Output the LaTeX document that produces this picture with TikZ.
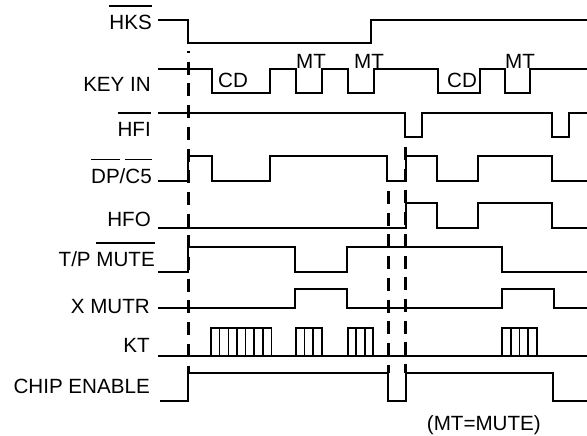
\documentclass[tikz,border=0pt]{standalone}
\usepackage{fontspec}
\setmainfont{Liberation Sans}
\newcommand\ovl[1]{\leavevmode\setbox0\hbox{#1}\rlap{\rule[1.12em]{\wd0}{1.5pt}}\box0}
\begin{document}
\begin{tikzpicture}[x=1pt,y=-1pt,
  sig/.style={line width=1.8pt, line join=miter},
  tick/.style={line width=2.6pt, dash pattern=on 13pt off 8.7pt},
  lbl/.style={inner sep=0pt, anchor=base east, font=\fontsize{20.6}{24}\selectfont},
  wlbl/.style={inner sep=0pt, anchor=base west, font=\fontsize{20.6}{24}\selectfont}]
\useasboundingbox (0,0) rectangle (587,436);
% labels
\node[lbl] (hks) at (152,30) {\ovl{HKS}};
\node[lbl] (keyin) at (151,92) {KEY IN};
\node[lbl] (hfi) at (151,136.7) {\ovl{HFI}};
\node[lbl] (dpc5) at (152,183.3) {\ovl{DP}/\ovl{C5}};
\node[lbl] (hfo) at (151,226) {HFO};
\node[lbl] (tpmute) at (155,266.7) {T/P \ovl{MUTE}};
\node[lbl] (xmutr) at (150,313) {X MUTR};
\node[lbl] (kt) at (150,352) {KT};
\node[lbl] (ce) at (150,393) {CHIP ENABLE};
\node[wlbl] (cd1) at (218,88) {CD};
\node[wlbl] (cd2) at (447,88) {CD};
\node[wlbl] (mt1) at (296,68.3) {MT};
\node[wlbl] (mt2) at (354,68.3) {MT};
\node[wlbl] (mt3) at (505,68.3) {MT};
\node[wlbl] (note) at (426.7,430) {(MT=MUTE)};
% waveforms
\draw[sig] (158.3,20) -| (188.3,43) -| (371,20) -- (587,20);
\draw[sig] (158,69) -| (212,93) -| (270,69) -| (295.7,93) -| (322,69) -| (347.7,93) -| (374,69) -| (438,93) -| (480,69) -| (505,93) -| (530,69) -- (587,69);
\draw[sig] (158,113) -| (405,137) -| (421.7,113) -| (551.7,137) -| (569,113) -- (587,113);
\draw[sig] (158,180.7) -| (188.3,156) -| (211.7,180.7) -| (270,156) -| (387.3,180.7) -| (405.7,156) -| (436.7,180.7) -| (477.7,156) -| (551.7,180.7) -- (587,180.7);
\draw[sig] (158,228.3) -| (405.7,203.3) -| (436.7,228.3) -| (477.7,203.3) -| (551.7,228.3) -- (587,228.3);
\draw[sig] (158,271.7) -| (188.3,247.3) -| (295,271.7) -| (346.7,247.3) -| (502.3,271.7) -- (587,271.7);
\draw[sig] (158,307.7) -| (295,289.3) -| (347.3,307.7) -| (502.3,289.3) -| (554,307.7) -- (587,307.7);
\draw[sig] (158,355.7) -- (587,355.7);
\foreach \a/\b/\n in {211/271.5/7, 295.7/321.7/3, 347.7/373.3/3, 502.3/536.7/4} {
  \draw[sig] (\a,355.7) rectangle (\b,328.3);
  \pgfmathtruncatemacro\m{\n-1}
  \foreach \k in {1,...,\m} {
    \draw[line width=1.5pt] ({\a+(\b-\a)*\k/\n},355.7) -- ({\a+(\b-\a)*\k/\n},328.3);
  }
}
\draw[sig] (160,400.7) -| (188.3,373.3) -| (387.7,400.7) -| (405.7,373.3) -| (552.7,400.7) -- (587,400.7);
% dashed markers
\draw[tick, dash phase=11pt] (188.3,51) -- (188.3,373);
\draw[tick] (388.3,191) -- (388.3,373);
\draw[tick] (405.5,147) -- (405.5,373);
\end{tikzpicture}
\end{document}
